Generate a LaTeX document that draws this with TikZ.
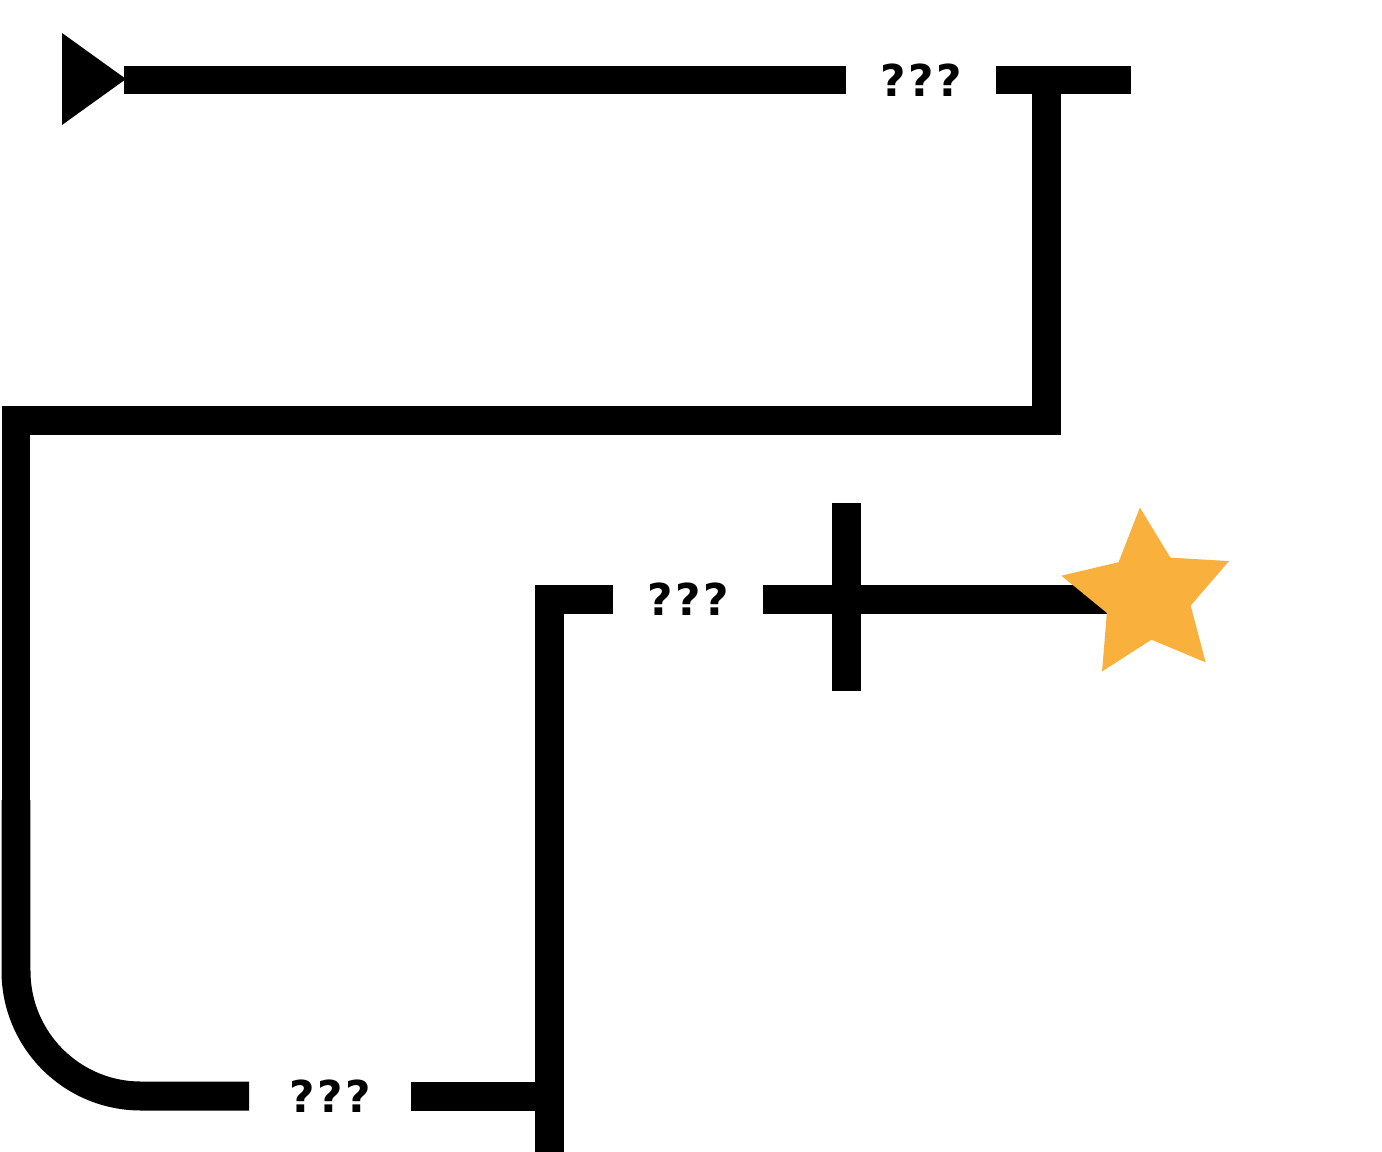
\documentclass[tikz,border=0pt]{standalone}
\usepackage{fontspec}
\setsansfont{DejaVu Sans}
\usetikzlibrary{shapes.geometric}
\definecolor{starorange}{HTML}{FAB03C}
\newcommand{\qqq}{?\kern0.05cm?\kern0.05cm?}
\begin{document}
\begin{tikzpicture}[
  x=0.02cm, y=-0.02cm,
  wall/.style={line width=0.58cm, line join=miter},
  qlabel/.style={font=\sffamily\bfseries\fontsize{25}{25}\selectfont,
                 minimum width=3cm, inner sep=0pt},
  goal/.style={star, star points=5, star point ratio=2, fill=starorange,
               minimum size=3.54cm, inner sep=0pt, rotate=5}
]
  \useasboundingbox (0,0) rectangle (1382,1152);

  % Labels in the gaps
  \node[qlabel] (qtop) at (921, 80) {\qqq};
  \node[qlabel] (qmid) at (688, 599) {\qqq};
  \node[qlabel, minimum width=3.22cm] (qbot) at (330, 1096) {\qqq};

  % Start marker
  \coordinate (start) at (124, 80);
  \fill (62, 33) -- (126, 79) -- (62, 125) -- cycle;
  \draw[wall] (qtop.west) -- (start);

  % Upper loop
  \draw[wall] (qtop.east) -- (1131, 80);
  \draw[wall] (1046, 80) -- (1046, 420) -- (16, 420) -- (16, 810);
  \draw[wall, rounded corners=2.5cm] (16, 800) -- (16, 1096) -- (qbot.west);

  % Lower branch
  \draw[wall] (qbot.east) -- (549, 1096);
  \draw[wall] (qmid.west) -- (549, 599) -- (549, 1152);

  % Goal
  \coordinate (goalc) at (1147.6, 595.6);
  \draw[wall] (846, 503) -- (846, 691);
  \draw[wall] (qmid.east) -- (qmid.east -| goalc);
  \node[goal] (target) at (goalc) {};
\end{tikzpicture}
\end{document}
